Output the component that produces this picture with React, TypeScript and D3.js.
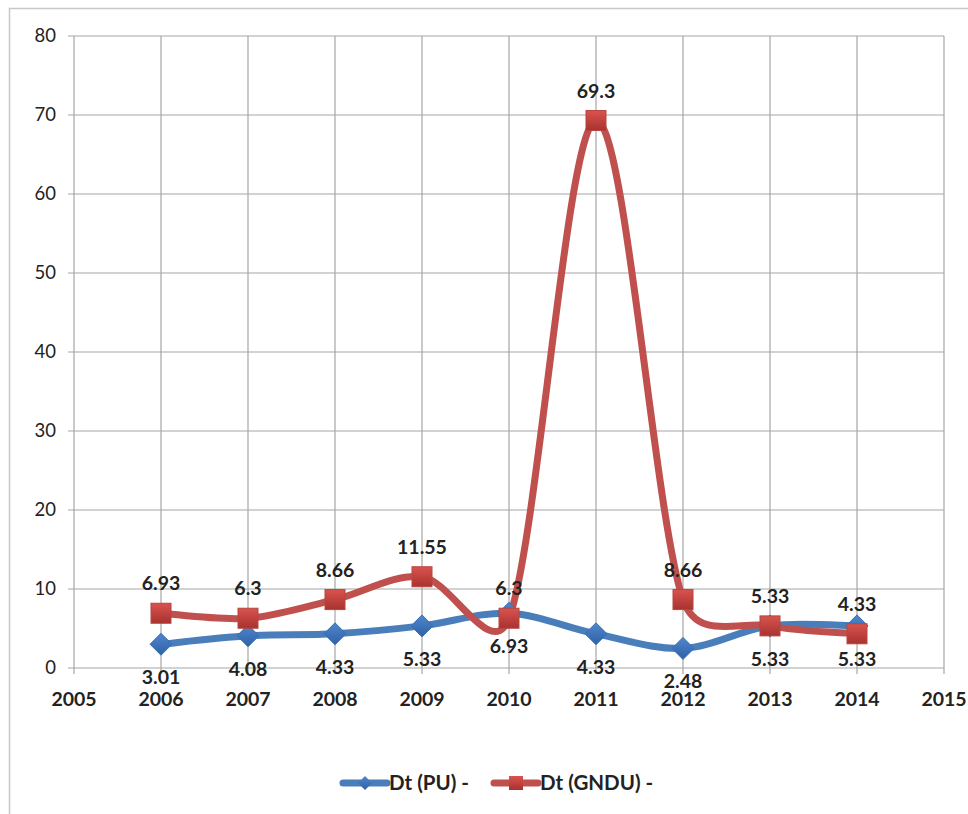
import React, { useEffect, useRef } from "react";
import * as d3 from "d3";

const years = [2006, 2007, 2008, 2009, 2010, 2011, 2012, 2013, 2014];
const puValues = [3.01, 4.08, 4.33, 5.33, 6.93, 4.33, 2.48, 5.33, 5.33];
const gnduValues = [6.93, 6.3, 8.66, 11.55, 6.3, 69.3, 8.66, 5.33, 4.33];
const puLabels = ["3.01", "4.08", "4.33", "5.33", "6.93", "4.33", "2.48", "5.33", "5.33"];
const gnduLabels = ["6.93", "6.3", "8.66", "11.55", "6.3", "69.3", "8.66", "5.33", "4.33"];
const xTicks = [2005, 2006, 2007, 2008, 2009, 2010, 2011, 2012, 2013, 2014, 2015];
const yTicks = [0, 10, 20, 30, 40, 50, 60, 70, 80];
const seriesNames = ["Dt (PU) -", "Dt (GNDU) -"];

const W = 968;
const H = 814;
const FONT = "Lato, 'Open Sans', sans-serif";

// Excel-style smoothed line: Bezier segments, tangent (P[i+1]-P[i-1])/6,
// control arm capped at half the segment length
function smoothPath(pts: [number, number][]): string {
  const p = d3.path();
  const n = pts.length;
  const dist = (a: [number, number], b: [number, number]) => Math.hypot(b[0] - a[0], b[1] - a[1]);
  p.moveTo(pts[0][0], pts[0][1]);
  for (let i = 0; i < n - 1; i++) {
    const p0 = pts[Math.max(i - 1, 0)];
    const p1 = pts[i];
    const p2 = pts[i + 1];
    const p3 = pts[Math.min(i + 2, n - 1)];
    const d12 = dist(p1, p2);
    const d02 = dist(p0, p2);
    const d13 = dist(p1, p3);
    let f1 = 1 / 6;
    let f2 = 1 / 6;
    if (d02 * f1 > d12 / 2) f1 = d12 / (2 * d02);
    if (d13 * f2 > d12 / 2) f2 = d12 / (2 * d13);
    const c1x = p1[0] + (p2[0] - p0[0]) * f1;
    const c1y = p1[1] + (p2[1] - p0[1]) * f1;
    const c2x = p2[0] - (p3[0] - p1[0]) * f2;
    const c2y = p2[1] - (p3[1] - p1[1]) * f2;
    p.bezierCurveTo(c1x, c1y, c2x, c2y, p2[0], p2[1]);
  }
  return p.toString();
}

const App: React.FC = () => {
  const svgRef = useRef<SVGSVGElement>(null);

  useEffect(() => {
    if (!svgRef.current) return;
    const svg = d3.select(svgRef.current);
    svg.selectAll("*").remove();

    const margin = { top: 36, right: 24, bottom: 146, left: 74 };

    const x = d3.scaleLinear().domain([2005, 2015]).range([margin.left, W - margin.right]);
    const y = d3.scaleLinear().domain([0, 80]).range([H - margin.bottom, margin.top]);

    // Outer frame
    svg.append("rect")
      .attr("x", 9.5).attr("y", 8.5)
      .attr("width", W + 20).attr("height", H + 20)
      .attr("fill", "#fff")
      .attr("stroke", "#c8c8c8")
      .attr("stroke-width", 1.5);

    const defs = svg.append("defs");
    const redGrad = defs.append("linearGradient")
      .attr("id", "redGrad").attr("x1", "0%").attr("y1", "0%").attr("x2", "0%").attr("y2", "100%");
    redGrad.append("stop").attr("offset", "0%").attr("stop-color", "#d9534f");
    redGrad.append("stop").attr("offset", "100%").attr("stop-color", "#a8322f");
    const blueGrad = defs.append("linearGradient")
      .attr("id", "blueGrad").attr("x1", "0%").attr("y1", "0%").attr("x2", "0%").attr("y2", "100%");
    blueGrad.append("stop").attr("offset", "0%").attr("stop-color", "#4f86cc");
    blueGrad.append("stop").attr("offset", "100%").attr("stop-color", "#2f62a8");

    // Gridlines
    svg.append("g")
      .selectAll("line")
      .data(yTicks)
      .enter().append("line")
      .attr("x1", x(2005) - 6).attr("x2", x(2015))
      .attr("y1", d => y(d)).attr("y2", d => y(d))
      .attr("stroke", "#a6a6a6").attr("stroke-width", 1.2);

    svg.append("g")
      .selectAll("line")
      .data(xTicks)
      .enter().append("line")
      .attr("x1", d => x(d)).attr("x2", d => x(d))
      .attr("y1", y(80)).attr("y2", y(0) + 6)
      .attr("stroke", "#a6a6a6").attr("stroke-width", 1.2);

    // Y tick labels
    svg.append("g")
      .selectAll("text")
      .data(yTicks)
      .enter().append("text")
      .attr("x", x(2005) - 18)
      .attr("y", d => y(d))
      .attr("dy", "0.35em")
      .attr("text-anchor", "end")
      .attr("font-family", FONT)
      .attr("font-size", 18.5)
      .attr("fill", "#222")
      .text(d => d);

    // X tick labels
    svg.append("g")
      .selectAll("text")
      .data(xTicks)
      .enter().append("text")
      .attr("x", d => x(d))
      .attr("y", y(0) + 38)
      .attr("text-anchor", "middle")
      .attr("font-family", FONT)
      .attr("font-weight", "bold")
      .attr("font-size", 19.5)
      .attr("fill", "#222")
      .text(d => d);

    const toPts = (vals: number[]) =>
      vals.map((v, i) => [x(years[i]), y(v)] as [number, number]);

    svg.append("path")
      .attr("d", smoothPath(toPts(puValues)))
      .attr("fill", "none")
      .attr("stroke", "#4a7ebb")
      .attr("stroke-width", 7)
      .attr("stroke-linecap", "round");

    svg.append("path")
      .attr("d", smoothPath(toPts(gnduValues)))
      .attr("fill", "none")
      .attr("stroke", "#c0504d")
      .attr("stroke-width", 7)
      .attr("stroke-linecap", "round");

    const diamond = (cx: number, cy: number, r: number) =>
      `M${cx},${cy - r}L${cx + r},${cy}L${cx},${cy + r}L${cx - r},${cy}Z`;

    svg.append("g")
      .selectAll("path")
      .data(puValues)
      .enter().append("path")
      .attr("d", (d, i) => diamond(x(years[i]), y(d), 11))
      .attr("fill", "url(#blueGrad)")
      .attr("stroke", "#3a6fb0")
      .attr("stroke-width", 1);

    svg.append("g")
      .selectAll("rect")
      .data(gnduValues)
      .enter().append("rect")
      .attr("x", (_, i) => x(years[i]) - 10)
      .attr("y", d => y(d) - 10)
      .attr("width", 20).attr("height", 20)
      .attr("fill", "url(#redGrad)")
      .attr("stroke", "#b84440")
      .attr("stroke-width", 1);

    // Data labels
    svg.append("g")
      .selectAll("text")
      .data(gnduValues)
      .enter().append("text")
      .attr("x", (_, i) => x(years[i]))
      .attr("y", d => y(d) - 23)
      .attr("text-anchor", "middle")
      .attr("font-family", FONT)
      .attr("font-weight", "bold")
      .attr("font-size", 19.5)
      .attr("fill", "#222")
      .text((_, i) => gnduLabels[i]);

    svg.append("g")
      .selectAll("text")
      .data(puValues)
      .enter().append("text")
      .attr("x", (_, i) => x(years[i]))
      .attr("y", d => y(d) + 40)
      .attr("text-anchor", "middle")
      .attr("font-family", FONT)
      .attr("font-weight", "bold")
      .attr("font-size", 19.5)
      .attr("fill", "#222")
      .text((_, i) => puLabels[i]);

    // Legend
    const legendY = 783;
    const items = [
      { name: seriesNames[0], color: "#4a7ebb", x0: 343, marker: "diamond" },
      { name: seriesNames[1], color: "#c0504d", x0: 494, marker: "square" },
    ];
    items.forEach(it => {
      const g = svg.append("g");
      g.append("line")
        .attr("x1", it.x0).attr("x2", it.x0 + 44)
        .attr("y1", legendY).attr("y2", legendY)
        .attr("stroke", it.color).attr("stroke-width", 7)
        .attr("stroke-linecap", "round");
      const mx = it.x0 + 22;
      if (it.marker === "diamond") {
        g.append("path").attr("d", diamond(mx, legendY, 7)).attr("fill", "url(#blueGrad)");
      } else {
        g.append("rect")
          .attr("x", mx - 7).attr("y", legendY - 7)
          .attr("width", 14).attr("height", 14)
          .attr("fill", "url(#redGrad)");
      }
      g.append("text")
        .attr("x", it.x0 + 46)
        .attr("y", legendY)
        .attr("dy", "0.35em")
        .attr("font-family", FONT)
        .attr("font-weight", "bold")
        .attr("font-size", 20.5)
        .attr("fill", "#222")
        .text(it.name);
    });
  }, []);

  return (
    <svg
      ref={svgRef}
      width={W}
      height={H}
      style={{ position: "absolute", left: 0, top: 0 }}
    />
  );
};

export default App;
